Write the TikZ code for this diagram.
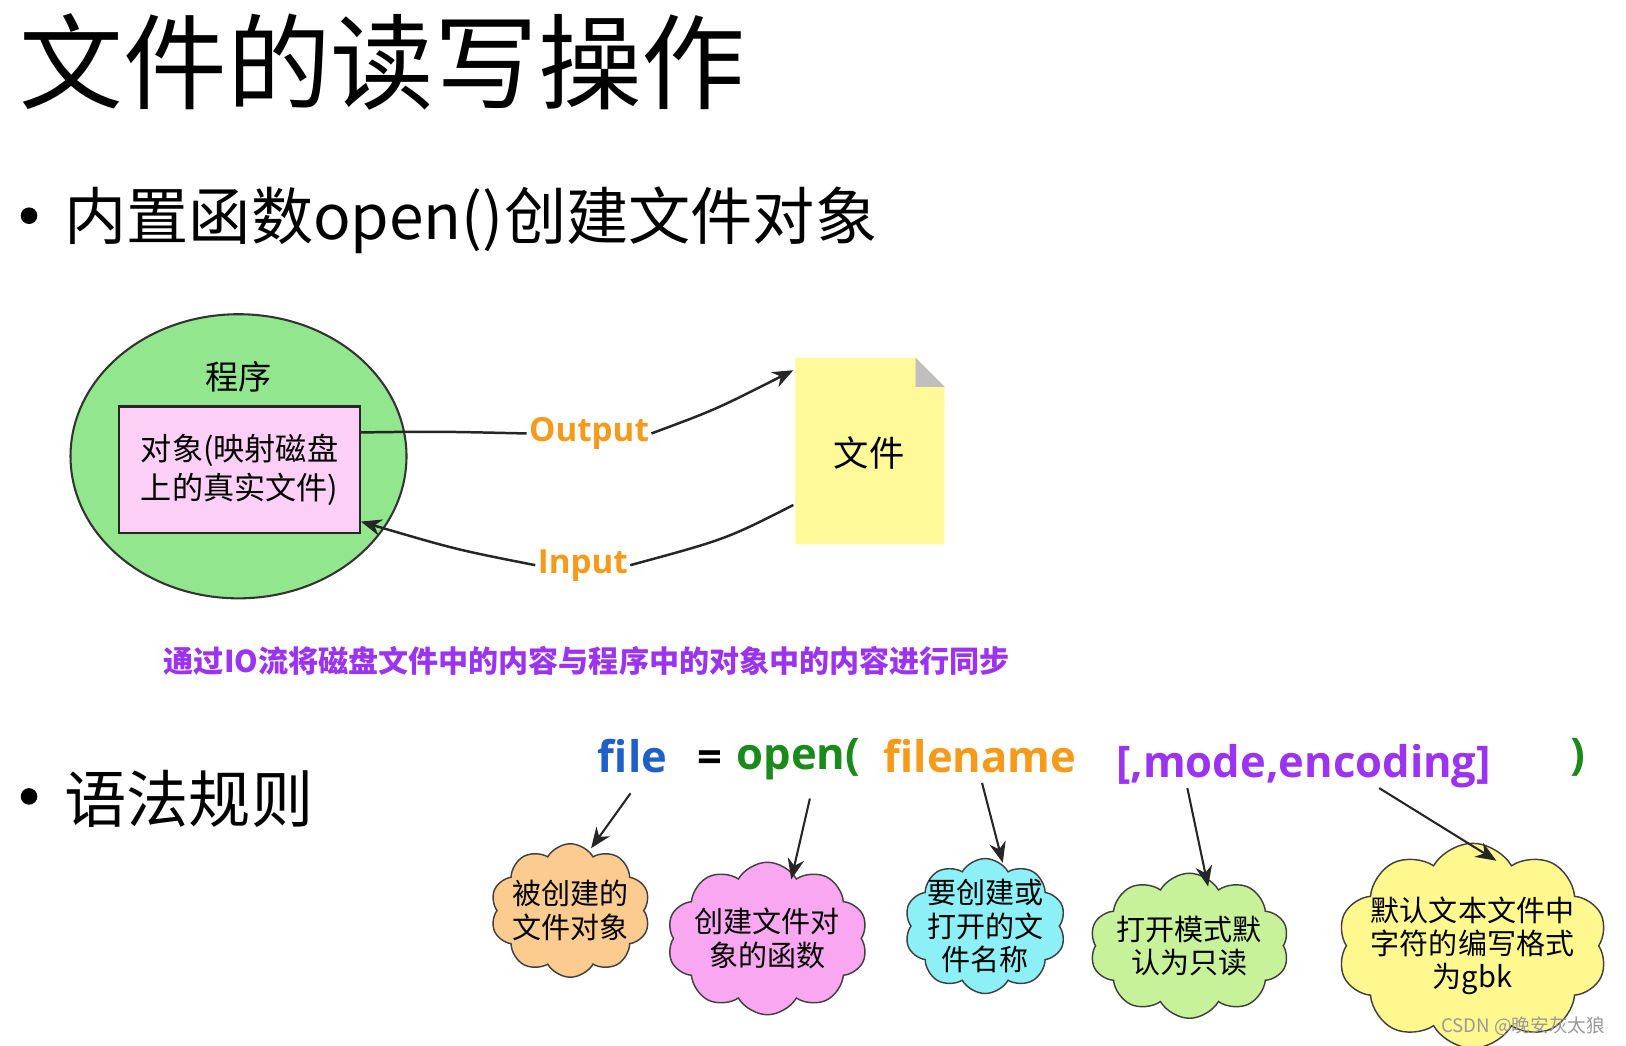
\documentclass[tikz,border=0pt]{standalone}
\usepackage{fontspec}
\setmainfont{Noto Sans CJK SC}
\newfontfamily\code{Open Sans}
\usetikzlibrary{shapes.symbols,shapes.geometric,arrows.meta}
\definecolor{cOr}{HTML}{FCCB8F}
\definecolor{cPk}{HTML}{F9A7F0}
\definecolor{cCy}{HTML}{8DF0F6}
\definecolor{cGr}{HTML}{C8F29A}
\definecolor{cYe}{HTML}{FFF88F}
\definecolor{cEl}{HTML}{92E68E}
\definecolor{cBlue}{HTML}{1F5FC8}
\definecolor{cGreen}{HTML}{1A8A1A}
\definecolor{cOrange}{HTML}{F59A1A}
\definecolor{cPurple}{HTML}{9B33F0}
\tikzset{
 cl/.style={cloud, cloud puffs=10, cloud puff arc=120, aspect=1.4, draw=black!75, line width=0.7pt, align=center, inner sep=-3pt, font=\fontsize{14}{16}\selectfont},
 arr/.style={-{Stealth[length=10pt,width=8pt]}, line width=1pt, black!85},
 codetxt/.style={font=\code\bfseries\fontsize{21}{24}\selectfont, anchor=base},
 dot/.style={circle, fill=black, inner sep=0pt, minimum size=8pt},
}
\begin{document}
\begin{tikzpicture}[x=0.5pt,y=-0.5pt]
\useasboundingbox (0,0) rectangle (1568,1008);
\fill[white] (0,0) rectangle (1568,1008);
\node[anchor=west, font=\fontsize{50}{54}\selectfont] (title) at (12,60) {文件的读写操作};
\node[dot] (d1) at (28,208) {};
\node[anchor=west, font=\fontsize{30}{34}\selectfont] (b1) at (55,212) {内置函数open()创建文件对象};
% program ellipse
\node[ellipse, draw=black!80, line width=1pt, fill=cEl, minimum width=162pt, minimum height=137pt] (prog) at (230,440) {};
\node[font=\fontsize{16}{18}\selectfont] (progt) at (230,363) {程序};
\node[draw=black!85, line width=1pt, fill=cPk!55, minimum width=116pt, minimum height=61pt, align=center, font=\fontsize{15}{19}\selectfont] (obj) at (231,453) {对象(映射磁盘\\上的真实文件)};
% file doc
\fill[cYe!90!white] (767,345) -- (883,345) -- (911,373) -- (911,525) -- (767,525) -- cycle;
\fill[black!25] (883,345) -- (883,373) -- (911,373) -- cycle;
\node[font=\fontsize{17}{20}\selectfont] (file) at (838,437) {文件};
\coordinate (fileo) at (765,357);
\coordinate (filei) at (765,487);
\node[font=\fontsize{16}{18}\selectfont\bfseries\code, text=cOrange, inner sep=1pt] (out) at (568,418) {Output};
\node[font=\fontsize{16}{18}\selectfont\bfseries\code, text=cOrange, inner sep=1pt] (inp) at (562,545) {Input};
\draw[line width=1.2pt, black!85] (obj.east |- 0,417) .. controls (420,416) .. (out.west);
\draw[arr, line width=1.2pt] (out.east) .. controls (690,395) .. (fileo);
\draw[line width=1.2pt, black!85] (filei) .. controls (700,520) .. (inp.east);
\draw[arr, line width=1.2pt] (inp.west) .. controls (440,530) .. (obj.east |- 0,503);
\node[font=\fontsize{14.5}{16}\selectfont\bfseries, text=cPurple] (sync) at (566,637) {通过IO流将磁盘文件中的内容与程序中的对象中的内容进行同步};
\node[dot] (d2) at (28,768) {};
\node[anchor=west, font=\fontsize{30}{34}\selectfont] (b2) at (55,770) {语法规则};
% code line
\node[codetxt, text=cBlue] (cf) at (610,745) {file};
\node[codetxt] (ceq) at (685,745) {=};
\node[codetxt, text=cGreen] (co) at (770,742) {open(};
\node[codetxt, text=cOrange] (cfn) at (945,745) {filename};
\node[codetxt, text=cPurple] (cm) at (1257,750) {[,mode,encoding]};
\node[codetxt, text=cGreen] (cp) at (1522,742) {)};
% clouds
\node[cl, fill=cOr, aspect=1.3] (k1) at (550,878) {被创建的\\文件对象};
\node[cl, fill=cPk, aspect=1.5] (k2) at (740,905) {创建文件对\\象的函数};
\node[cl, fill=cCy, aspect=1.3] (k3) at (950,893) {要创建或\\打开的文\\件名称};
\node[cl, fill=cGr, aspect=1.6] (k4) at (1147,912) {打开模式默\\认为只读};
\node[cl, fill=cYe, aspect=1.5, inner sep=-6pt] (k5) at (1420,912) {默认文本文件中\\字符的编写格式\\为gbk};
\coordinate (a1) at (608,765); \coordinate (a2) at (781,770); \coordinate (a3) at (947,755);
\coordinate (a4) at (1145,760); \coordinate (a5) at (1330,760);
\coordinate (e1) at (570,818); \coordinate (e2) at (763,848); \coordinate (e3) at (967,832);
\coordinate (e4) at (1165,855); \coordinate (e5) at (1443,830);
\draw[arr] (a1) -- (e1);
\draw[arr] (a2) -- (e2);
\draw[arr] (a3) -- (e3);
\draw[arr] (a4) -- (e4);
\draw[arr] (a5) -- (e5);
\node[anchor=east, text=black!40, font=\fontsize{9}{10}\selectfont] (wm) at (1555,990) {CSDN @晚安灰太狼};
\end{tikzpicture}
\end{document}
